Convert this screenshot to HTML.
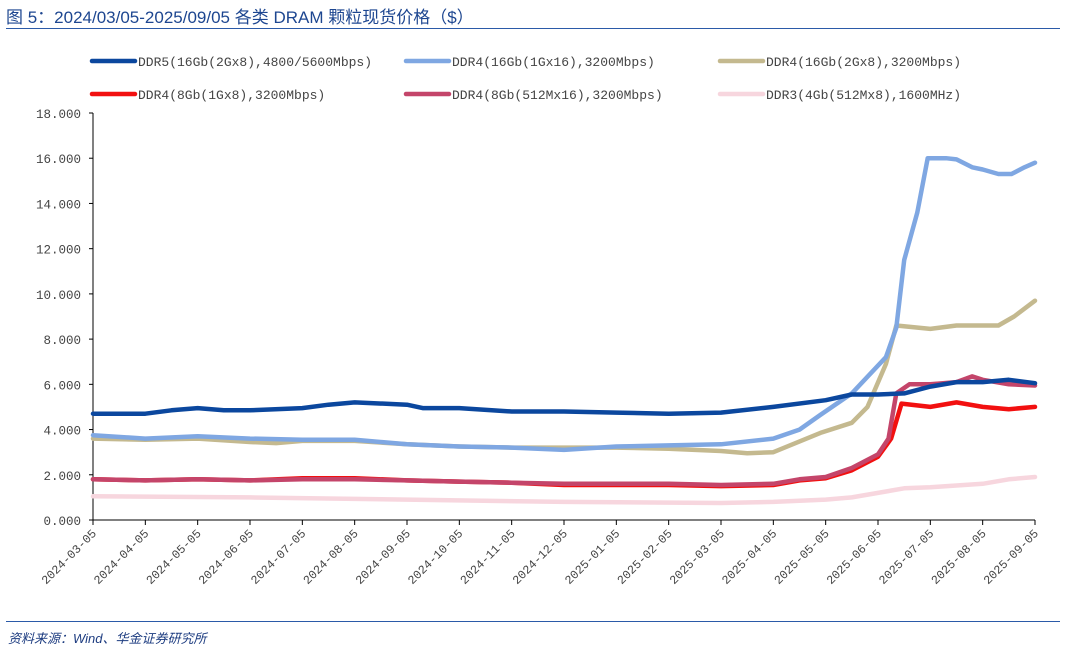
<!DOCTYPE html>
<html><head><meta charset="utf-8"><style>
body{margin:0;width:1066px;height:650px;background:#fff;overflow:hidden;position:relative;font-family:"Liberation Sans","Noto Sans CJK SC",sans-serif}
#title{position:absolute;left:6px;top:3px;font-size:17px;color:#1d4690}
#tline{position:absolute;left:6px;top:28px;width:1054px;height:1px;background:#2b5aa8}
#bline{position:absolute;left:6px;top:621px;width:1054px;height:1px;background:#2b5aa8}
#src{position:absolute;left:8px;top:628px;font-size:13px;font-style:italic;color:#1d3c80}
svg{position:absolute;left:0;top:0}
text{font-family:"Liberation Mono","Noto Serif CJK SC",monospace}
</style></head><body>
<div id="title">图 5：2024/03/05-2025/09/05 各类 DRAM 颗粒现货价格（$）</div>
<div id="tline"></div>
<svg id="chart" width="1066" height="650"></svg>
<div id="bline"></div>
<div id="src">资料来源：Wind、华金证券研究所</div>
<script>
const xLabels=["2024-03-05","2024-04-05","2024-05-05","2024-06-05","2024-07-05","2024-08-05","2024-09-05","2024-10-05","2024-11-05","2024-12-05","2025-01-05","2025-02-05","2025-03-05","2025-04-05","2025-05-05","2025-06-05","2025-07-05","2025-08-05","2025-09-05"];
const yTicks=[0,2,4,6,8,10,12,14,16,18];
const seriesNames=["DDR5(16Gb(2Gx8),4800/5600Mbps)","DDR4(16Gb(1Gx16),3200Mbps)","DDR4(16Gb(2Gx8),3200Mbps)","DDR4(8Gb(1Gx8),3200Mbps)","DDR4(8Gb(512Mx16),3200Mbps)","DDR3(4Gb(512Mx8),1600MHz)"];
const ddr5M=[0,1,1.5,2,2.5,3,4,4.5,5,6,6.3,7,8,9,10,11,12,13,14,14.5,15,15.5,16,16.5,17,17.5,18];
const ddr5V=[4.7,4.7,4.85,4.95,4.85,4.85,4.95,5.1,5.2,5.1,4.95,4.95,4.8,4.8,4.75,4.7,4.75,5.0,5.3,5.55,5.55,5.6,5.9,6.1,6.1,6.2,6.05];
const lbM=[0,1,2,3,4,5,6,7,8,9,10,11,12,13,13.5,13.9,14.5,15.15,15.35,15.5,15.75,15.95,16.3,16.5,16.8,17,17.3,17.55,17.8,18];
const lbV=[3.75,3.6,3.7,3.6,3.55,3.55,3.35,3.25,3.2,3.1,3.25,3.3,3.35,3.6,4.0,4.65,5.6,7.2,8.5,11.5,13.6,16.0,16.0,15.95,15.6,15.5,15.3,15.3,15.6,15.8];
const tanM=[0,1,2,3,3.5,4,5,6,7,8,9,10,11,12,12.5,13,13.9,14.5,14.8,15.15,15.35,16,16.5,17,17.3,17.6,18];
const tanV=[3.6,3.55,3.6,3.45,3.4,3.5,3.5,3.35,3.25,3.2,3.2,3.2,3.15,3.05,2.95,3.0,3.85,4.3,5.0,6.9,8.6,8.45,8.6,8.6,8.6,9.0,9.7];
const redM=[0,1,2,3,4,5,6,7,8,9,10,11,12,13,13.5,14,14.5,15,15.25,15.45,16,16.5,17,17.5,18];
const redV=[1.8,1.75,1.8,1.75,1.85,1.85,1.75,1.7,1.65,1.55,1.55,1.55,1.5,1.55,1.75,1.85,2.2,2.8,3.6,5.15,5.0,5.2,5.0,4.9,5.0];
const crM=[0,1,2,3,4,5,6,7,8,9,10,11,12,13,13.5,14,14.5,15,15.2,15.35,15.6,16,16.5,16.8,17,17.5,18];
const crV=[1.8,1.75,1.8,1.75,1.8,1.8,1.75,1.7,1.65,1.6,1.6,1.6,1.55,1.6,1.8,1.9,2.3,2.9,3.6,5.6,6.0,6.0,6.1,6.35,6.2,6.0,5.95];
const pkM=[0,3,6,9,12,13,14,14.5,15,15.5,16,17,17.5,18];
const pkV=[1.05,1.0,0.9,0.8,0.75,0.8,0.9,1.0,1.2,1.4,1.45,1.6,1.8,1.9];
const series=[[ddr5M,ddr5V,"#0b479e"],[lbM,lbV,"#7fa7e2"],[tanM,tanV,"#c4b98f"],[redM,redV,"#f21010"],[crM,crV,"#c4456a"],[pkM,pkV,"#f7d6de"]];
const X0=93,X1=1035,Y0=520,Y1=113;
const xs=m=>X0+m*(X1-X0)/(xLabels.length-1);
const ys=v=>Y0-v*(Y0-Y1)/18;
const svg=document.getElementById('chart');
const NS="http://www.w3.org/2000/svg";
function mk(t,a){const e=document.createElementNS(NS,t);for(const k in a)e.setAttribute(k,a[k]);svg.appendChild(e);return e;}
let e=mk('line',{x1:X0,y1:Y1,x2:X0,y2:Y0,stroke:'#000','stroke-width':1});


e=mk('line',{x1:X0,y1:Y0,x2:X1,y2:Y0,stroke:'#000','stroke-width':1});


yTicks.forEach(v=>{
 const t=mk('line',{x1:X0-4,y1:ys(v),x2:X0,y2:ys(v),stroke:'#000'});
 
 
 const l=mk('text',{x:X0-12,y:ys(v)+5,'text-anchor':'end','font-size':12.5,fill:'#444'});
 l.textContent=v.toFixed(3);
 
 
});
xLabels.forEach((s,i)=>{
 const x=xs(i);
 const t=mk('line',{x1:x,y1:Y0,x2:x,y2:Y0+5,stroke:'#000'});
 
 
 const l=mk('text',{x:x+4,y:Y0+14,'text-anchor':'end','font-size':12,fill:'#444',transform:`rotate(-45 ${x+4} ${Y0+14})`});
 l.textContent=s;
 
 
});
[5,2,1,3,4,0].forEach(i=>{
 const [M,V,c]=series[i];
 const p=mk('polyline',{points:M.map((m,j)=>xs(m).toFixed(1)+','+ys(V[j]).toFixed(1)).join(' '),fill:'none',stroke:c,'stroke-width':4.5,'stroke-linejoin':'round','stroke-linecap':'round'});
 
 
});
const lx=[92,406,720],ly=[61,94];
seriesNames.forEach((n,i)=>{
 const x=lx[i%3],y=ly[Math.floor(i/3)];
 const s=mk('line',{x1:x,y1:y,x2:x+43,y2:y,stroke:series[i][2],'stroke-width':4.5,'stroke-linecap':'round'});
 
 
 const t=mk('text',{x:x+46,y:y+5,'font-size':13,fill:'#444'});
 t.textContent=n;
 
 
});
</script>
</body></html>
